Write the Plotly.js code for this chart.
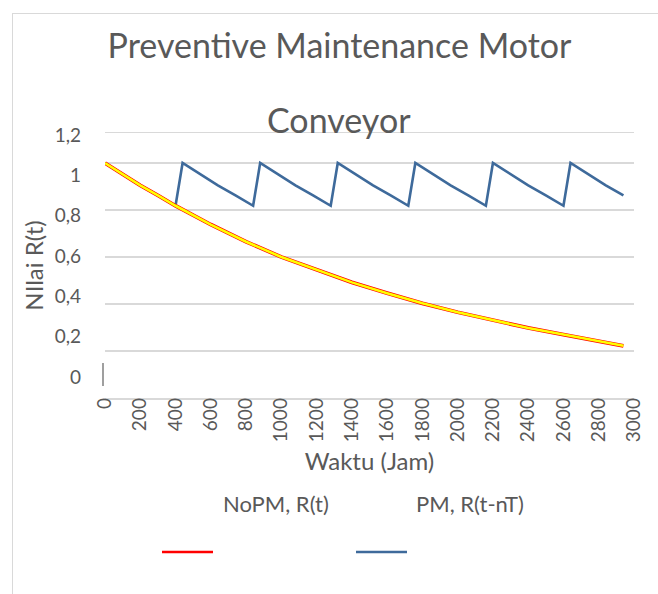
<!DOCTYPE html>
<html>
<head>
<meta charset="utf-8">
<script src="https://cdn.plot.ly/plotly-3.0.1.min.js"></script>
<style>
  html, body { margin: 0; padding: 0; background: #ffffff; }
  #wrap { position: relative; width: 658px; height: 594px; overflow: hidden; }
  #frame { position: absolute; left: 12px; top: 13px; width: 660px; height: 600px;
           border-left: 1.5px solid #d9d9d9; border-top: 1.5px solid #d9d9d9; }
  #chart { position: absolute; left: 0; top: 0; width: 658px; height: 594px; }
</style>
</head>
<body>
<div id="wrap">
  <div id="frame"></div>
  <div id="chart"></div>
</div>
<script>
// ---- Data ----
// NoPM, R(t): reliability without preventive maintenance
const noPmHours = [0, 100, 200, 300, 400, 600, 800, 1000, 1200, 1400, 1600, 1800, 2000, 2200, 2400, 2600, 2800, 2940];
const noPmR     = [1.00, 0.952, 0.905, 0.862, 0.818, 0.738, 0.665, 0.60, 0.545, 0.492, 0.446, 0.403, 0.365, 0.330, 0.298, 0.270, 0.243, 0.222];

// PM, R(t-nT): reliability with preventive maintenance (reset every cycle)
const pmHours = [0, 100, 200, 300, 400,
                 440, 540, 640, 740, 840,
                 880, 980, 1080, 1180, 1280,
                 1320, 1420, 1520, 1620, 1720,
                 1760, 1860, 1960, 2060, 2160,
                 2200, 2300, 2400, 2500, 2600,
                 2640, 2740, 2840, 2940];
const pmR     = [1.00, 0.952, 0.905, 0.862, 0.818,
                 1.00, 0.952, 0.905, 0.862, 0.818,
                 1.00, 0.952, 0.905, 0.862, 0.818,
                 1.00, 0.952, 0.905, 0.862, 0.818,
                 1.00, 0.952, 0.905, 0.862, 0.818,
                 1.00, 0.952, 0.905, 0.862, 0.818,
                 1.00, 0.952, 0.905, 0.862];

// Axis ticks
const xTickVals = [0, 200, 400, 600, 800, 1000, 1200, 1400, 1600, 1800, 2000, 2200, 2400, 2600, 2800, 3000];
const yGridVals = [0.2, 0.4, 0.6, 0.8, 1.0];
const yLabelVals = [0, 0.2, 0.4, 0.6, 0.8, 1.0, 1.2];
const yLabelText = ["0", "0,2", "0,4", "0,6", "0,8", "1", "1,2"];

const seriesNames = ["NoPM, R(t)", "PM, R(t-nT)"];
const chartTitle = ["Preventive Maintenance Motor", "Conveyor"];
const xTitle = "Waktu (Jam)";
const yTitle = "NIlai R(t)";

// ---- Layout helpers (pixel -> paper) ----
const W = 658, H = 594;
const L = 105, R = 634, T = 133, B = 398;
const px = v => (v - L) / (R - L);
const py = v => (B - v) / (B - T);

const FONT = "Lato, 'Open Sans', sans-serif";
const TXT = "#595959";
const RED = "#ff0000", YEL = "#ffff00", BLUE = "#3e6a9b";

const traces = [
  { x: pmHours, y: pmR, type: "scatter", mode: "lines", name: seriesNames[1],
    line: { color: BLUE, width: 2.6 }, showlegend: false },
  { x: noPmHours, y: noPmR, type: "scatter", mode: "lines", name: seriesNames[0],
    line: { color: RED, width: 3.8 }, showlegend: false, hoverinfo: "x+y" },
  { x: noPmHours, y: noPmR, type: "scatter", mode: "lines", name: seriesNames[0],
    line: { color: YEL, width: 2.6 }, showlegend: false, hoverinfo: "skip" },
  { x: [], y: [], yaxis: "y2", type: "scatter", mode: "lines", showlegend: false, hoverinfo: "skip" }
];

const layout = {
  width: W, height: H,
  margin: { l: L, r: W - R, t: T, b: H - B, pad: 0 },
  paper_bgcolor: "rgba(0,0,0,0)",
  plot_bgcolor: "rgba(0,0,0,0)",
  font: { family: FONT, color: TXT },
  showlegend: false,
  title: {
    text: chartTitle[0],
    font: { family: FONT, size: 34, color: TXT },
    xref: "container", x: 339.5 / W, xanchor: "center",
    yref: "container", y: 1 - 46 / H, yanchor: "middle"
  },
  xaxis: {
    range: [0, 3000],
    tickmode: "array", tickvals: xTickVals, ticktext: xTickVals.map(String),
    tickangle: -90,
    tickfont: { family: FONT, size: 19, color: TXT },
    ticks: "", ticklabelstandoff: -9,
    showgrid: false, zeroline: false,
    showline: true, linecolor: "#d9d9d9", linewidth: 1.5, mirror: true,
    title: { text: xTitle, font: { family: FONT, size: 24, color: TXT }, standoff: 12 },
    automargin: false
  },
  yaxis: {
    range: [0, (B - T) / 235],
    tickmode: "array", tickvals: yGridVals,
    showticklabels: false, ticks: "",
    showgrid: true, gridcolor: "#d9d9d9", gridwidth: 1.5,
    zeroline: false, showline: false, automargin: false
  },
  yaxis2: {
    overlaying: "y", side: "left", anchor: "x",
    range: [-(B - 377) / 201.7, 1.2 + (135 - T) / 201.7],
    tickmode: "array", tickvals: yLabelVals, ticktext: yLabelText,
    tickfont: { family: FONT, size: 19, color: TXT },
    ticks: "", ticklabelstandoff: 23,
    showgrid: false, zeroline: false, showline: false,
    title: { text: yTitle, font: { family: FONT, size: 24, color: TXT }, standoff: 4 },
    automargin: false
  },
  annotations: [
    { text: chartTitle[1], xref: "paper", yref: "paper", x: px(339), y: py(119),
      xanchor: "center", yanchor: "middle", showarrow: false,
      font: { family: FONT, size: 34, color: TXT } },
    { text: seriesNames[0], xref: "paper", yref: "paper", x: px(221), y: py(503),
      xanchor: "left", yanchor: "middle", showarrow: false,
      font: { family: FONT, size: 22, color: TXT } },
    { text: seriesNames[1], xref: "paper", yref: "paper", x: px(414), y: py(503),
      xanchor: "left", yanchor: "middle", showarrow: false,
      font: { family: FONT, size: 22, color: TXT } }
  ],
  shapes: [
    { type: "line", xref: "paper", yref: "paper", x0: px(162), x1: px(213), y0: py(552), y1: py(552),
      line: { color: RED, width: 2.6 } },
    { type: "line", xref: "paper", yref: "paper", x0: px(356), x1: px(407), y0: py(552), y1: py(552),
      line: { color: BLUE, width: 2.6 } },
    { type: "line", xref: "paper", yref: "paper", x0: px(103), x1: px(103), y0: py(363), y1: py(386),
      line: { color: "#7f7f7f", width: 1.5 } }
  ]
};

Plotly.newPlot("chart", traces, layout, { displayModeBar: false, staticPlot: true });
</script>
</body>
</html>
